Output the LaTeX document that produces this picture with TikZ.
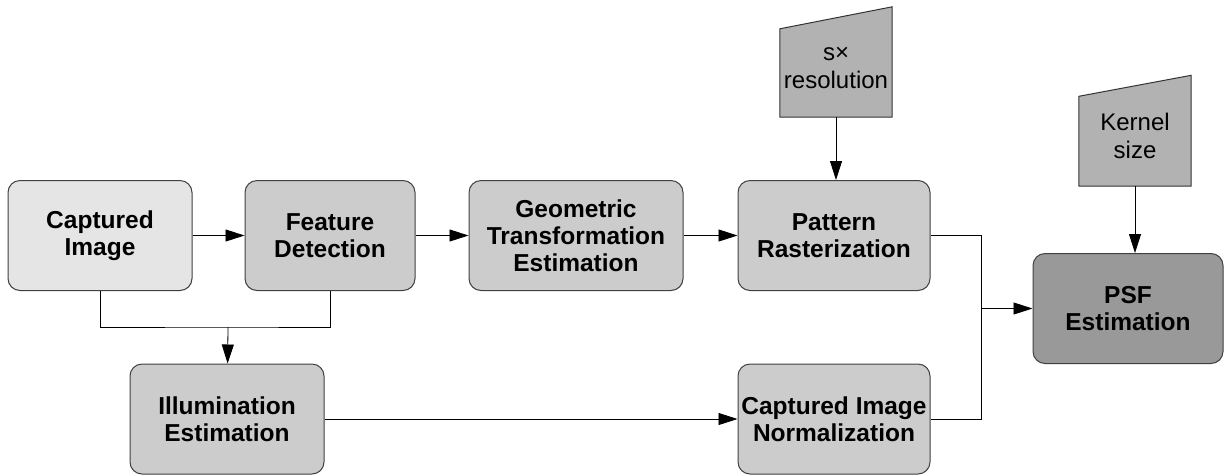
\documentclass[tikz,border=0pt]{standalone}
\usepackage{fontspec}
\setmainfont{Liberation Sans}
\usetikzlibrary{arrows.meta,backgrounds}

\begin{document}
\begin{tikzpicture}[x=1pt,y=-1pt]
    \tikzstyle{every node}=[font={\fontsize{24.5}{27}\selectfont\bfseries}]
    \tikzstyle{block}=[draw=black!75, line width=1pt, rounded corners=12pt, minimum height=110pt, align=center, inner sep=1pt]
    \tikzstyle{param}=[minimum width=112pt, align=center, inner sep=0pt, font={\fontsize{24}{28}\selectfont}]
    \tikzstyle{arr}=[-{Triangle[length=19pt,width=12pt]}]
    \tikzstyle{wire}=[line width=0.8pt]
    \useasboundingbox (0,0) rectangle (1231,475);

    \node[block, fill=black!10, minimum width=184pt] (cap) at (100,235.5) {Captured\\Image};
    \node[block, fill=black!20, minimum width=170pt] (feat) at (330,235.5) {Feature\\Detection};
    \node[block, fill=black!20, minimum width=214pt] (geo) at (576,235.5) {Geometric\\Transformation\\Estimation};
    \node[block, fill=black!20, minimum width=192pt] (pat) at (834,235.5) {Pattern\\Rasterization};
    \node[block, fill=black!20, minimum width=194pt] (ill) at (227,419) {Illumination\\Estimation};
    \node[block, fill=black!20, minimum width=192pt] (norm) at (834,419) {Captured Image\\Normalization};
    \node[block, fill=black!40, minimum width=190pt] (psf) at (1128,308.5) {PSF\\Estimation};

    \node[param, minimum height=99pt] (res) at (836,67.5) {s×\\resolution};
    \node[param, minimum height=100pt] (ker) at (1135,136) {Kernel\\size};
    \begin{scope}[on background layer]
        \filldraw[fill=black!30, draw=black!80, line width=1pt] (res.south west) -- (res.south east) -- ([yshift=11pt]res.north east) -- ([yshift=-11pt]res.north west) -- cycle;
        \filldraw[fill=black!30, draw=black!80, line width=1pt] (ker.south west) -- (ker.south east) -- ([yshift=10.5pt]ker.north east) -- ([yshift=-10.5pt]ker.north west) -- cycle;
    \end{scope}

    \coordinate (split) at (228,327);
    \coordinate (merge) at (981,308.5);

    \draw[wire, arr] (cap) -- (feat);
    \draw[wire, arr] (feat) -- (geo);
    \draw[wire, arr] (geo) -- (pat);
    \draw[wire] (cap.south) |- (split) -| (feat.south);
    \draw[wire, arr] (split) -- (ill);
    \draw[wire, arr] (ill) -- (norm);
    \draw[wire] (pat.east) -| (merge) |- (norm.east);
    \draw[wire, arr] (merge) -- (psf);
    \draw[wire, arr] (res.south) -- (res.south |- pat.north);
    \draw[wire, arr] (ker.south) -- (ker.south |- psf.north);
\end{tikzpicture}
\end{document}
